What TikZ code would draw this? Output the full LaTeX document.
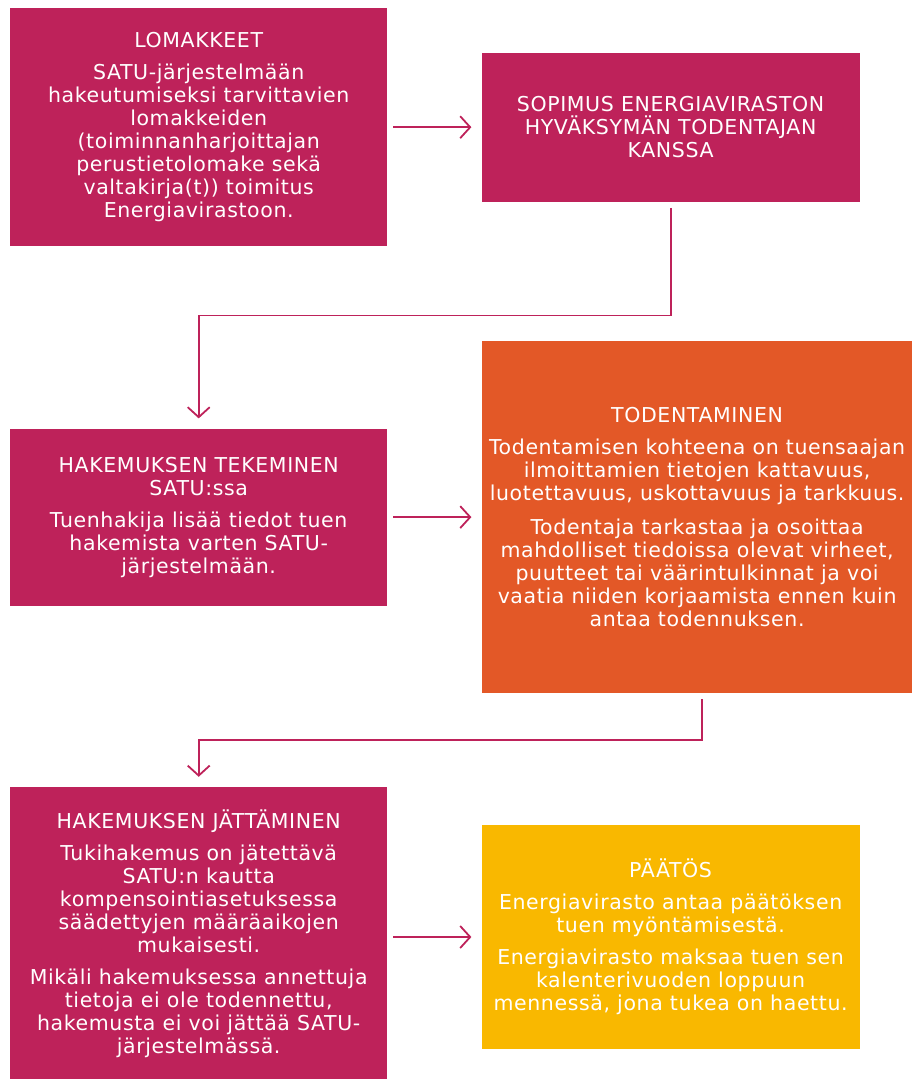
\documentclass[tikz,border=0pt]{standalone}
\usepackage{fontspec}
\setmainfont{DejaVu Sans}[LetterSpace=3]
\usepackage{tikz}
\usetikzlibrary{arrows.meta, positioning}
\definecolor{crimson}{RGB}{190, 34, 90}
\definecolor{rust}{RGB}{227, 88, 39}
\definecolor{amber}{RGB}{249, 184, 0}
\newcommand{\boxfont}{\fontsize{20.5}{23}\selectfont}
\tikzset{
  font=\boxfont,
  baseblock/.style={
    rectangle, inner sep=0pt, align=center, text=white
  },
  stepblock/.style={baseblock, fill=crimson},
  checkblock/.style={baseblock, fill=rust},
  decisionblock/.style={baseblock, fill=amber},
  flowline/.style={
    draw=crimson, line width=1.8pt,
    -{Straight Barb[length=10pt, width=22pt, line width=1.8pt]},
    shorten <=6pt, shorten >=10pt
  }
}

\begin{document}
\begin{tikzpicture}
  \useasboundingbox (0,0) rectangle (912pt,-1079pt);

  \node[stepblock, anchor=north west, minimum width=377pt, minimum height=238pt] (lomakkeet) at (10pt,-8pt) {
    LOMAKKEET\\[9pt]
    SATU-järjestelmään\\
    hakeutumiseksi tarvittavien\\
    lomakkeiden\\
    (toiminnanharjoittajan\\
    perustietolomake sekä\\
    valtakirja(t)) toimitus\\
    Energiavirastoon.
  };

  \node[stepblock, right=94pt of lomakkeet, minimum width=378pt, minimum height=149pt] (sopimus) {
    SOPIMUS ENERGIAVIRASTON\\
    HYVÄKSYMÄN TODENTAJAN\\
    KANSSA
  };

  \node[stepblock, below=182pt of lomakkeet, minimum width=377pt, minimum height=177pt] (tekeminen) {
    HAKEMUKSEN TEKEMINEN\\
    SATU:ssa\\[9pt]
    Tuenhakija lisää tiedot tuen\\
    hakemista varten SATU-\\
    järjestelmään.
  };

  \node[checkblock, right=94pt of tekeminen, minimum width=431pt, minimum height=352pt] (todentaminen) {
    TODENTAMINEN\\[9pt]
    Todentamisen kohteena on tuensaajan\\
    ilmoittamien tietojen kattavuus,\\
    luotettavuus, uskottavuus ja tarkkuus.\\[11pt]
    Todentaja tarkastaa ja osoittaa\\
    mahdolliset tiedoissa olevat virheet,\\
    puutteet tai väärintulkinnat ja voi\\
    vaatia niiden korjaamista ennen kuin\\
    antaa todennuksen.
  };

  \node[stepblock, below=181pt of tekeminen, minimum width=377pt, minimum height=293pt] (jattaminen) {
    HAKEMUKSEN JÄTTÄMINEN\\[9pt]
    Tukihakemus on jätettävä\\
    SATU:n kautta\\
    kompensointiasetuksessa\\
    säädettyjen määräaikojen\\
    mukaisesti.\\[9pt]
    Mikäli hakemuksessa annettuja\\
    tietoja ei ole todennettu,\\
    hakemusta ei voi jättää SATU-\\
    järjestelmässä.
  };

  \node[decisionblock, right=94pt of jattaminen, yshift=-3.5pt, minimum width=378pt, minimum height=224pt] (paatos) {
    PÄÄTÖS\\[9pt]
    Energiavirasto antaa päätöksen\\
    tuen myöntämisestä.\\[9pt]
    Energiavirasto maksaa tuen sen\\
    kalenterivuoden loppuun\\
    mennessä, jona tukea on haettu.
  };

  \draw[flowline] (lomakkeet.east) -- (lomakkeet.east -| sopimus.west);
  \draw[flowline] (sopimus.south) -- ++(0,-113.5pt) -| (tekeminen.north);
  \draw[flowline] (tekeminen.east) -- (tekeminen.east -| todentaminen.west);
  \draw[flowline] ([xshift=4.5pt]todentaminen.south) -- ++(0,-47pt) -| (jattaminen.north);
  \draw[flowline] (jattaminen.east |- paatos.west) -- (paatos.west);
\end{tikzpicture}
\end{document}
